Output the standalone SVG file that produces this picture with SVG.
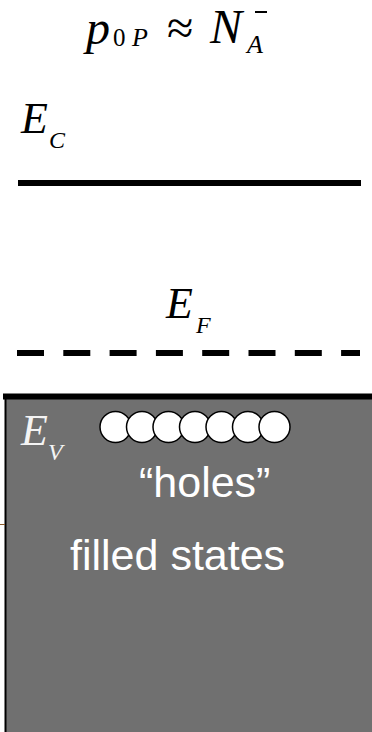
<svg xmlns="http://www.w3.org/2000/svg" width="372" height="732" viewBox="0 0 372 732">
<style>
.m{font-family:"Liberation Serif","Times New Roman",serif;font-style:italic;fill:#000}
.u{font-family:"Liberation Serif","Times New Roman",serif;fill:#000}
.w{fill:#f4f4f4}
.s{font-family:"Liberation Sans",Arial,sans-serif;fill:#ffffff;font-size:43px}
.hole{fill:#ffffff;stroke:#000;stroke-width:1.5}
</style>
<rect width="372" height="732" fill="#ffffff"/>
<g id="formula">
<text class="m" x="86" y="44" font-size="48">p</text>
<text class="u" x="113" y="46" font-size="25">0</text>
<text class="m" x="132" y="46" font-size="26">P</text>
<text class="u" x="167" y="44" font-size="48">≈</text>
<text class="m" x="210" y="43" font-size="48">N</text>
<text class="m" x="247" y="53" font-size="26">A</text>
<line x1="255" y1="12" x2="267" y2="12" stroke="#000" stroke-width="2"/>
</g>
<g id="valence-band">
<rect x="5" y="398" width="367" height="334" fill="#707070"/>
<line x1="5.5" y1="397" x2="5.5" y2="732" stroke="#000" stroke-width="2"/>
<line x1="0" y1="524.5" x2="5" y2="524.5" stroke="#8a5a2a" stroke-width="1"/>
</g>
<g id="levels">
<g id="Ec">
<line x1="18" y1="183" x2="361" y2="183" stroke="#000" stroke-width="6"/>
<text class="m" x="21" y="133" font-size="44">E</text>
<text class="m" x="49" y="148" font-size="24">C</text>
</g>
<g id="Ef">
<line x1="17" y1="353" x2="360" y2="353" stroke="#000" stroke-width="6" stroke-dasharray="27 19.3"/>
<text class="m" x="166" y="318" font-size="44">E</text>
<text class="m" x="196" y="333" font-size="24">F</text>
</g>
<g id="Ev">
<line x1="3" y1="396.5" x2="372" y2="396.5" stroke="#000" stroke-width="6"/>
<text class="m w" x="21" y="445" font-size="44">E</text>
<text class="m w" x="48" y="460" font-size="24">V</text>
</g>
</g>
<g id="holes">
<circle class="hole" cx="115.5" cy="427" r="15.5"/>
<circle class="hole" cx="142" cy="427" r="15.5"/>
<circle class="hole" cx="168.5" cy="427" r="15.5"/>
<circle class="hole" cx="195" cy="427" r="15.5"/>
<circle class="hole" cx="221.5" cy="427" r="15.5"/>
<circle class="hole" cx="248" cy="427" r="15.5"/>
<circle class="hole" cx="274.5" cy="427" r="15.5"/>
<text class="s" x="139" y="497">“holes”</text>
</g>
<g id="filled">
<text class="s" x="70" y="570">filled states</text>
</g>
</svg>
